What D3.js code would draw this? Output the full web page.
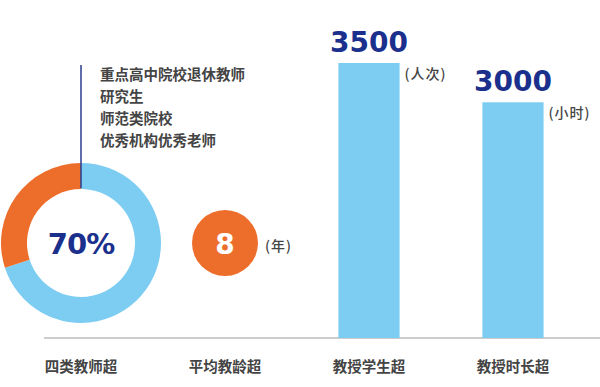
<!DOCTYPE html>
<html>
<head>
<meta charset="utf-8">
<script src="https://cdn.jsdelivr.net/npm/d3@7"></script>
<style>
  body { margin: 0; background: #fff; }
  svg { display: block; }
</style>
</head>
<body>
<div id="chart"></div>
<script>
// chart data
var categories = ["四类教师超", "平均教龄超", "教授学生超", "教授时长超"];
var values = [70, 8, 3500, 3000];
var units = ["%", "(年)", "(人次)", "(小时)"];
var teacherTypes = ["重点高中院校退休教师", "研究生", "师范类院校", "优秀机构优秀老师"];

var width = 600, height = 387;
var baseY = 338;
var blue = "#7dcdf3", orange = "#ed6d2b", navy = "#1b2f8c", grey = "#444";
var cjk = "'Noto Sans CJK SC', sans-serif";
var num = "'DejaVu Sans', sans-serif";

var svg = d3.select("#chart")
  .append("svg")
    .attr("width", width)
    .attr("height", height);

// x: one band per category
var x = d3.scaleBand()
  .domain(categories)
  .range([9, 585])
  .paddingInner(0.575)
  .paddingOuter(0.2875);
var cx = function(c) { return x(c) + x.bandwidth() / 2; };

// y for the two bar values
var y = d3.scaleLinear()
  .domain([0, 3500])
  .range([baseY, 63]);

// baseline
svg.append("line")
  .attr("x1", 44).attr("x2", width)
  .attr("y1", baseY).attr("y2", baseY)
  .attr("stroke", "#bdbdbd")
  .attr("stroke-width", 1.5);

// category labels
svg.append("g")
  .selectAll("text")
  .data(categories)
  .enter()
  .append("text")
    .attr("x", function(d) { return cx(d); })
    .attr("y", 365)
    .attr("text-anchor", "middle")
    .attr("dominant-baseline", "central")
    .style("font-family", cjk)
    .style("font-weight", 700)
    .style("font-size", "14.5px")
    .style("fill", grey)
    .text(function(d) { return d; });

// --- donut (share of the four teacher types)
var donutY = 243;
var pie = d3.pie().sort(null);
var arc = d3.arc().innerRadius(54).outerRadius(80);
var g0 = svg.append("g")
  .attr("transform", "translate(" + cx(categories[0]) + "," + donutY + ")");
g0.selectAll("path")
  .data(pie([values[0], 100 - values[0]]))
  .enter()
  .append("path")
    .attr("d", arc)
    .attr("fill", function(d, i) { return i == 0 ? blue : orange; });

g0.append("text")
  .attr("x", 0).attr("y", 1)
  .attr("text-anchor", "middle")
  .attr("dominant-baseline", "central")
  .style("font-family", num)
  .style("font-weight", 700)
  .style("font-size", "29px")
  .style("letter-spacing", "-1px")
  .style("fill", navy)
  .text(values[0] + units[0]);

// leader line up to the list
g0.append("line")
  .attr("x1", 0).attr("x2", 0)
  .attr("y1", -55).attr("y2", 65 - donutY)
  .attr("stroke", "#2a3e8f")
  .attr("stroke-width", 1.5);

svg.append("g")
  .selectAll("text")
  .data(teacherTypes)
  .enter()
  .append("text")
    .attr("x", 100)
    .attr("y", function(d, i) { return 73 + i * 22.3; })
    .attr("dominant-baseline", "central")
    .style("font-family", cjk)
    .style("font-weight", 700)
    .style("font-size", "14.5px")
    .style("fill", grey)
    .text(function(d) { return d; });

// --- years circle
var c1 = cx(categories[1]);
svg.append("circle")
  .attr("cx", c1).attr("cy", donutY)
  .attr("r", 33)
  .attr("fill", orange);
svg.append("text")
  .attr("x", c1).attr("y", donutY + 1)
  .attr("text-anchor", "middle")
  .attr("dominant-baseline", "central")
  .style("font-family", num)
  .style("font-weight", 700)
  .style("font-size", "28px")
  .style("fill", "#fff")
  .text(values[1]);
svg.append("text")
  .attr("x", c1 + 40).attr("y", donutY + 2)
  .attr("dominant-baseline", "central")
  .style("font-family", cjk)
  .style("font-weight", 500)
  .style("font-size", "14px")
  .style("letter-spacing", "1px")
  .style("fill", grey)
  .text(units[1]);

// --- bars
var barCats = categories.slice(2), barVals = values.slice(2), barUnits = units.slice(2);

svg.append("g")
  .selectAll("rect")
  .data(barVals)
  .enter()
  .append("rect")
    .attr("x", function(d, i) { return x(barCats[i]); })
    .attr("y", function(d) { return y(d); })
    .attr("width", x.bandwidth())
    .attr("height", function(d) { return baseY - y(d); })
    .attr("fill", blue);

svg.append("g")
  .selectAll("text")
  .data(barVals)
  .enter()
  .append("text")
    .attr("x", function(d, i) { return cx(barCats[i]); })
    .attr("y", function(d) { return y(d) - 11; })
    .attr("text-anchor", "middle")
    .style("font-family", num)
    .style("font-weight", 700)
    .style("font-size", "28px")
    .style("fill", navy)
    .text(function(d) { return d; });

svg.append("g")
  .selectAll("text")
  .data(barVals)
  .enter()
  .append("text")
    .attr("x", function(d, i) { return x(barCats[i]) + x.bandwidth() + 5; })
    .attr("y", function(d) { return y(d) + 10; })
    .attr("dominant-baseline", "central")
    .style("font-family", cjk)
    .style("font-weight", 500)
    .style("font-size", "14px")
    .style("letter-spacing", "1px")
    .style("fill", grey)
    .text(function(d, i) { return barUnits[i]; });
</script>
</body>
</html>
